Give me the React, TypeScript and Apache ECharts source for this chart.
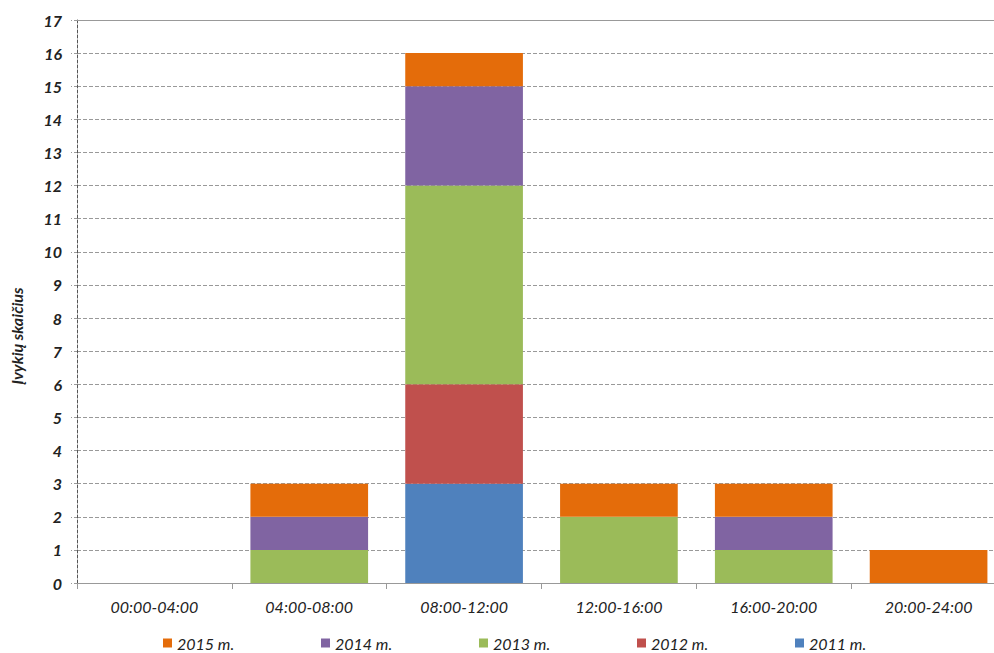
import React, { useEffect, useRef } from "react";
import * as echarts from "echarts";

const categories = ["00:00-04:00", "04:00-08:00", "08:00-12:00", "12:00-16:00", "16:00-20:00", "20:00-24:00"];
const y2011 = [0, 0, 3, 0, 0, 0];
const y2012 = [0, 0, 3, 0, 0, 0];
const y2013 = [0, 1, 6, 2, 1, 0];
const y2014 = [0, 1, 3, 0, 1, 0];
const y2015 = [0, 1, 1, 1, 1, 1];
const legendOrder = ["2015 m.", "2014 m.", "2013 m.", "2012 m.", "2011 m."];

const FONT = "Lato, 'Open Sans', sans-serif";

export default function App() {
  const ref = useRef<HTMLDivElement>(null);

  useEffect(() => {
    document.body.style.margin = "0";
    document.body.style.overflow = "hidden";
    const chart = echarts.init(ref.current!, undefined, { renderer: "svg" });
    const mk = (name: string, data: number[], color: string) => ({
      name,
      type: "bar",
      stack: "total",
      data: data.map((v) => (v === 0 ? null : v)),
      barWidth: "76%",
      itemStyle: { color },
    });
    chart.setOption({
      animation: false,
      backgroundColor: "#fff",
      grid: { left: 77, top: 20, width: 929, height: 563 },
      legend: {
        data: legendOrder,
        top: 634,
        left: 163,
        padding: 0,
        itemWidth: 9,
        itemHeight: 9,
        itemGap: 84,
        icon: "rect",
        textStyle: { fontFamily: FONT, fontStyle: "italic", fontSize: 16, color: "#222", width: 60, lineHeight: 18 },
      },
      xAxis: [
        {
          type: "category",
          data: categories,
          axisLine: { lineStyle: { color: "#999", width: 1 } },
          axisTick: { show: true, length: 6, lineStyle: { color: "#999" } },
          axisLabel: { fontFamily: FONT, fontStyle: "italic", fontSize: 16, color: "#222", margin: 15 },
        },
        {
          type: "category",
          data: categories,
          position: "top",
          axisLine: { show: true, lineStyle: { color: "#999", width: 1 } },
          axisTick: { show: false },
          axisLabel: { show: false },
        },
      ],
      yAxis: {
        type: "value",
        min: 0,
        max: 17,
        interval: 1,
        axisLine: { show: true, lineStyle: { color: "#555", type: [3, 2], width: 1 } },
        axisTick: { show: true, length: 6, lineStyle: { color: "#999", type: [3, 2] } },
        splitLine: { show: true, lineStyle: { color: "#999", type: [4, 2], width: 1 } },
        axisLabel: { fontFamily: FONT, fontStyle: "italic", fontWeight: "bold", fontSize: 16, color: "#222", margin: 15 },
      },
      graphic: [
        {
          type: "text",
          x: 16,
          y: 336,
          rotation: Math.PI / 2,
          style: {
            text: "Įvykių skaičius",
            fontFamily: FONT,
            fontStyle: "italic",
            fontWeight: "bold",
            fontSize: 16,
            fill: "#222",
            align: "center",
            verticalAlign: "middle",
          },
        },
      ],
      series: [
        mk("2011 m.", y2011, "#4F81BD"),
        mk("2012 m.", y2012, "#C0504D"),
        mk("2013 m.", y2013, "#9BBB59"),
        mk("2014 m.", y2014, "#8064A2"),
        mk("2015 m.", y2015, "#E46C0A"),
      ],
    });
    return () => chart.dispose();
  }, []);

  return <div ref={ref} style={{ width: 1010, height: 653 }} />;
}
